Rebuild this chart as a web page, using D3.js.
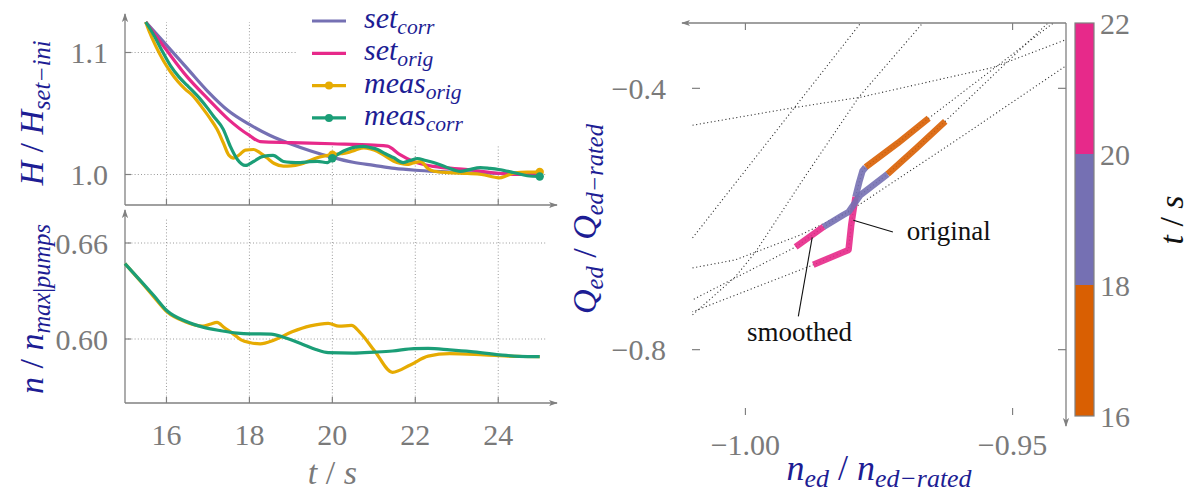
<!DOCTYPE html>
<html>
<head>
<meta charset="utf-8">
<script src="https://cdn.jsdelivr.net/npm/d3@7"></script>
<style>
  body { margin: 0; background: #fff; }
</style>
</head>
<body>
<svg id="chart" width="1190" height="493"></svg>
<script>
// ---------- ticks ----------
const timeTicks  = [16, 18, 20, 22, 24];
const headTicks  = [1.0, 1.1];
const speedTicks = [0.60, 0.66];
const nedTicks   = [-1.00, -0.95];
const qedTicks   = [-0.4, -0.8];
const cbTicks    = [16, 18, 20, 22];

// ---------- head ratio H / H_set-ini over time [t, H] ----------
const setCorr = [[15.5,1.125],[16,1.106],[16.5,1.087],[17,1.068],[17.5,1.052],[18,1.041],[18.5,1.032],
  [19,1.025],[19.5,1.019],[20,1.014],[20.5,1.010],[21,1.0075],[21.5,1.005],[22,1.0035],[22.5,1.0025],
  [23,1.0018],[24,1.001],[25,1.000]];
const setOrig = [[15.5,1.125],[16,1.102],[16.5,1.080],[17,1.062],[17.5,1.045],[18,1.032],[18.26,1.027],
  [19,1.0262],[20,1.0252],[21,1.024],[21.33,1.0232],[21.6,1.017],[21.96,1.0107],[22.44,1.0066],
  [23.26,1.0041],[24.06,1.0008],[24.5,1.0],[25,1.0]];
const measOrig = [[15.5,1.125],[15.6,1.116],[15.76,1.104],[15.93,1.093],[16.1,1.084],[16.28,1.076],
  [16.45,1.070],[16.62,1.065],[16.88,1.054],[17.05,1.046],[17.22,1.037],[17.37,1.026],[17.5,1.016],
  [17.62,1.0135],[17.75,1.016],[17.9,1.020],[18.1,1.0205],[18.25,1.018],[18.42,1.0137],[18.6,1.009],
  [18.82,1.0068],[19.0,1.007],[19.23,1.0085],[19.43,1.011],[19.63,1.0137],[19.85,1.0155],[20.03,1.0164],
  [20.2,1.017],[20.36,1.0178],[20.55,1.020],[20.76,1.0219],[20.92,1.021],[21.08,1.0191],[21.28,1.015],
  [21.48,1.0109],[21.65,1.009],[21.8,1.0082],[21.95,1.0095],[22.13,1.0105],[22.3,1.005],[22.45,1.0027],
  [22.8,1.0015],[23.25,1.0008],[23.6,1.0],[24.02,0.9973],[24.2,0.999],[24.38,1.0014],[24.7,1.002],[25.0,1.002]];
const measCorr = [[15.5,1.125],[15.7,1.114],[15.9,1.101],[16.1,1.089],[16.3,1.080],[16.5,1.073],
  [16.81,1.062],[17.0,1.054],[17.13,1.048],[17.37,1.037],[17.54,1.023],[17.71,1.0123],[17.9,1.0074],
  [18.1,1.0107],[18.33,1.0148],[18.57,1.0156],[18.82,1.0107],[19.0,1.010],[19.23,1.0098],[19.45,1.0105],
  [19.64,1.0107],[19.88,1.0098],[20.02,1.0139],[20.2,1.018],[20.36,1.0205],[20.55,1.0225],[20.75,1.0230],
  [20.92,1.022],[21.09,1.0205],[21.28,1.017],[21.47,1.0139],[21.71,1.0098],[21.88,1.0115],[22.05,1.0131],
  [22.25,1.0115],[22.44,1.0098],[22.75,1.006],[23.09,1.0025],[23.3,1.004],[23.57,1.0057],[23.8,1.005],
  [24.01,1.0041],[24.37,1.0016],[24.7,0.999],[25.0,0.9984]];
// times at which the measured head carries a marker
const measMarkTimes = [20, 25];

// ---------- pump speed n / n_max|pumps over time [t, n] ----------
const speedOrig = [[15,0.6471],[15.41,0.6350],[15.7,0.6262],[16.02,0.6168],[16.45,0.6108],[16.88,0.6080],
  [17.05,0.6092],[17.22,0.6104],[17.4,0.6070],[17.57,0.6040],[17.8,0.5995],[18.0,0.5978],[18.26,0.5970],
  [18.6,0.5994],[19.03,0.6045],[19.47,0.6082],[19.9,0.6098],[20.16,0.6080],[20.46,0.6085],[20.67,0.6040],
  [21.02,0.5925],[21.45,0.5792],[21.88,0.5838],[22.31,0.5893],[22.83,0.5908],[23.43,0.5904],[24.03,0.5896],
  [24.5,0.5891],[25.0,0.5890]];
const speedCorr = [[15,0.6471],[15.41,0.6354],[15.7,0.627],[16.02,0.6175],[16.45,0.6112],[16.88,0.6074],
  [17.31,0.6052],[17.7,0.6037],[18.0,0.6032],[18.52,0.6031],[18.86,0.6008],[19.29,0.5966],[19.6,0.5935],
  [19.9,0.5915],[20.5,0.5912],[21.02,0.5918],[21.45,0.5925],[21.97,0.5940],[22.31,0.5941],[22.83,0.5932],
  [23.34,0.5921],[24.03,0.5901],[24.5,0.5892],[25.0,0.5890]];

// ---------- operating point trajectories [t, n_ed, Q_ed] ----------
const trajOriginal = [[16,-0.9657,-0.4458],[17,-0.9715,-0.4840],[18,-0.9775,-0.5206],[18.3,-0.9781,-0.5267],
  [19,-0.9787,-0.5435],[20,-0.9794,-0.5664],[20.6,-0.9802,-0.6092],[21.2,-0.9807,-0.6473],[22,-0.9873,-0.6702]];
const trajSmoothed = [[16,-0.9626,-0.4504],[17,-0.9680,-0.4916],[18,-0.9734,-0.5313],[18.8,-0.9785,-0.5634],
  [19.3,-0.9807,-0.5893],[19.45,-0.9817,-0.5939],[20,-0.9854,-0.6122],[21,-0.9880,-0.6275],[22,-0.9906,-0.6428]];
// continuation of each path outside the time window [n_ed, Q_ed]
const originalBefore = [[-0.9425,-0.3008]];
const originalAfter  = [[-1.0099,-0.7420]];
const smoothedBefore = [[-0.9435,-0.3008]];
const smoothedAfter  = [[-1.0099,-0.7237]];
// characteristic guide curves [n_ed, Q_ed]
const guide1 = [[-1.0099,-0.4565],[-0.9916,-0.4305],[-0.9785,-0.4137],[-0.9536,-0.3679],[-0.9399,-0.3252]];
const guide2 = [[-1.0099,-0.6290],[-0.9785,-0.3008]];
const guide3 = [[-1.0099,-0.7466],[-1.0019,-0.6886],[-0.9981,-0.6504],[-0.9893,-0.5405],[-0.9788,-0.4137],[-0.9669,-0.3008]];
const guide4 = [[-1.0099,-0.6748],[-1.0019,-0.6626],[-0.9897,-0.6244],[-0.9813,-0.5908],[-0.9788,-0.5786],[-0.9597,-0.4748],[-0.9399,-0.3649]];

// time bands of the colour bar
const timeBands = [
  { from: 16, to: 18, color: "#d95f02" },
  { from: 18, to: 20, color: "#7570b3" },
  { from: 20, to: 22, color: "#e7298a" }
];

// annotations: leader from a point on the path to the label [n_ed, Q_ed]
const annotations = [
  { text: "original", from: [-0.9798, -0.6018], to: [-0.9724, -0.6198], at: [-0.9698, -0.6320], anchor: "start" },
  { text: "smoothed", from: [-0.9875, -0.6280], to: [-0.9901, -0.7490], at: [-0.9899, -0.7870], anchor: "middle" }
];

const legendItems = [
  { base: "set",  sub: "corr", color: "#7570b3", marker: false },
  { base: "set",  sub: "orig", color: "#e7298a", marker: false },
  { base: "meas", sub: "orig", color: "#e6ab02", marker: true },
  { base: "meas", sub: "corr", color: "#1b9e77", marker: true }
];

// ---------- drawing ----------
const FONT = "'Liberation Serif', 'DejaVu Serif', 'Noto Serif', 'Times New Roman', Times, serif";
const svg = d3.select("#chart").attr("font-family", FONT);
const AXIS = "#808080", TICKTXT = "#7a7a7a", GRID = "#9a9a9a", LABEL = "#1d1d94";
const TICK_FS = 30, LABEL_FS = 34;

const defs = svg.append("defs");
defs.append("marker").attr("id", "arr").attr("viewBox", "0 0 10 10")
  .attr("refX", 9).attr("refY", 5).attr("markerWidth", 9).attr("markerHeight", 9)
  .attr("markerUnits", "userSpaceOnUse").attr("orient", "auto")
  .append("path").attr("d", "M0,1.5 L10,5 L0,8.5 L2.5,5 Z").attr("fill", AXIS);

// write a math-like label made of tokens; sub tokens are lowered and smaller
function mathText(sel, tokens, size) {
  sel.attr("font-family", FONT);
  let off = 0;
  tokens.forEach(tk => {
    const target = tk.sub ? size * 0.2 : 0;
    const ts = sel.append("tspan").text(tk.s)
      .attr("font-size", tk.sub ? size * 0.72 : size)
      .attr("dy", target - off);
    off = target;
    if (tk.i !== false) ts.attr("font-style", "italic");
  });
  return sel;
}

// ----- left panels -----
const xT = d3.scaleLinear().domain([15, 25.2]).range([125, 548]);
const yH = d3.scaleLinear().domain([0.975, 1.125]).range([205, 22]);
const yN = d3.scaleLinear().domain([0.56, 0.675]).range([403, 219]);
const gridRight = xT(25.15);

function leftGrid(y, ticks, topY) {
  const g = svg.append("g");
  const bottom = y.range()[0];
  g.selectAll(".vg").data(timeTicks).join("line")
    .attr("x1", d => xT(d)).attr("x2", d => xT(d)).attr("y1", bottom).attr("y2", topY)
    .attr("stroke", GRID).attr("stroke-width", 1).attr("stroke-dasharray", "1,2.2");
  g.selectAll(".hg").data(ticks).join("line")
    .attr("x1", xT(15)).attr("x2", gridRight).attr("y1", d => y(d)).attr("y2", d => y(d))
    .attr("stroke", GRID).attr("stroke-width", 1).attr("stroke-dasharray", "1,2.2");
}
function leftAxes(y, ticks, fmt, arrowTop) {
  const g = svg.append("g");
  const bottom = y.range()[0];
  g.append("line").attr("x1", xT(15)).attr("x2", 557).attr("y1", bottom).attr("y2", bottom)
    .attr("stroke", AXIS).attr("stroke-width", 1.3).attr("marker-end", "url(#arr)");
  g.append("line").attr("x1", xT(15)).attr("x2", xT(15)).attr("y1", bottom).attr("y2", arrowTop)
    .attr("stroke", AXIS).attr("stroke-width", 1.3).attr("marker-end", "url(#arr)");
  g.selectAll(".xt").data(timeTicks).join("line")
    .attr("x1", d => xT(d)).attr("x2", d => xT(d)).attr("y1", bottom).attr("y2", bottom - 6)
    .attr("stroke", AXIS).attr("stroke-width", 1.2);
  g.selectAll(".yt").data(ticks).join("line")
    .attr("x1", xT(15)).attr("x2", xT(15) + 6).attr("y1", d => y(d)).attr("y2", d => y(d))
    .attr("stroke", AXIS).attr("stroke-width", 1.2);
  g.selectAll(".yl").data(ticks).join("text")
    .attr("x", 108).attr("y", d => y(d)).attr("dy", "0.35em").attr("text-anchor", "end")
    .attr("font-family", FONT).attr("font-size", TICK_FS).attr("fill", TICKTXT).text(fmt);
}

leftGrid(yH, headTicks, yH(1.125));
leftGrid(yN, speedTicks, 219);

// legend background hides the grid behind it
const legend = svg.append("g");
legend.append("rect").attr("x", 296).attr("y", 2).attr("width", 255).attr("height", 143).attr("fill", "#fff");

leftAxes(yH, headTicks, d3.format(".1f"), 14);
leftAxes(yN, speedTicks, d3.format(".2f"), 210);

const lineH = d3.line().x(d => xT(d[0])).y(d => yH(d[1])).curve(d3.curveMonotoneX);
const lineN = d3.line().x(d => xT(d[0])).y(d => yN(d[1])).curve(d3.curveMonotoneX);

[[setCorr, "#7570b3"], [setOrig, "#e7298a"], [measOrig, "#e6ab02"], [measCorr, "#1b9e77"]].forEach(([d, c]) => {
  svg.append("path").datum(d).attr("d", lineH).attr("fill", "none")
    .attr("stroke", c).attr("stroke-width", 3.2).attr("stroke-linejoin", "round");
});
function valueAt(series, t) {
  const i = d3.bisector(d => d[0]).left(series, t);
  if (i <= 0) return series[0][1];
  if (i >= series.length) return series[series.length - 1][1];
  const a = series[i - 1], b = series[i];
  return a[1] + (b[1] - a[1]) * (t - a[0]) / (b[0] - a[0]);
}
[[measOrig, "#e6ab02"], [measCorr, "#1b9e77"]].forEach(([d, c]) => {
  svg.append("g").selectAll("circle").data(measMarkTimes).join("circle")
    .attr("cx", t => xT(t)).attr("cy", t => yH(valueAt(d, t))).attr("r", 4.2).attr("fill", c);
});
[[speedOrig, "#e6ab02"], [speedCorr, "#1b9e77"]].forEach(([d, c]) => {
  svg.append("path").datum(d).attr("d", lineN).attr("fill", "none")
    .attr("stroke", c).attr("stroke-width", 3.2).attr("stroke-linejoin", "round");
});

// legend entries
legendItems.forEach((it, i) => {
  const y = 21 + i * 32.3;
  legend.append("line").attr("x1", 312).attr("x2", 346).attr("y1", y).attr("y2", y)
    .attr("stroke", it.color).attr("stroke-width", 3.2);
  if (it.marker) legend.append("circle").attr("cx", 329).attr("cy", y).attr("r", 4).attr("fill", it.color);
  const t = legend.append("text").attr("x", 364).attr("y", y + 7).attr("fill", LABEL);
  mathText(t, [{ s: it.base }, { s: it.sub, sub: true }], 30);
});

// left axis labels
mathText(svg.append("text").attr("transform", "translate(43,113) rotate(-90)")
  .attr("text-anchor", "middle").attr("fill", LABEL),
  [{ s: "H" }, { s: " / ", i: false }, { s: "H" }, { s: "set−ini", sub: true }], LABEL_FS);
mathText(svg.append("text").attr("transform", "translate(43,309) rotate(-90)")
  .attr("text-anchor", "middle").attr("fill", LABEL),
  [{ s: "n" }, { s: " / ", i: false }, { s: "n" }, { s: "max", sub: true }, { s: "|", sub: true, i: false }, { s: "pumps", sub: true }], LABEL_FS);

svg.append("g").selectAll("text").data(timeTicks).join("text")
  .attr("x", d => xT(d)).attr("y", 445).attr("text-anchor", "middle")
  .attr("font-family", FONT).attr("font-size", TICK_FS).attr("fill", TICKTXT).text(d => d);
mathText(svg.append("text").attr("x", xT(20)).attr("y", 484).attr("text-anchor", "middle").attr("fill", TICKTXT),
  [{ s: "t" }, { s: " / ", i: false }, { s: "s" }], LABEL_FS);

// ----- right panel: operating point plane -----
const xE = d3.scaleLinear().domain([-1.01, -0.94]).range([692, 1066]);
const yE = d3.scaleLinear().domain([-0.9, -0.3]).range([415, 23]);
const [L, R] = xE.range(), [B, T] = yE.range();

defs.append("clipPath").attr("id", "plane").append("rect")
  .attr("x", L).attr("y", T).attr("width", R - L).attr("height", B - T);

const plane = svg.append("g").attr("clip-path", "url(#plane)");
const lineE = d3.line().x(d => xE(d[0])).y(d => yE(d[1]));

const fullOriginal = originalBefore.concat(trajOriginal.map(d => [d[1], d[2]]), originalAfter);
const fullSmoothed = smoothedBefore.concat(trajSmoothed.map(d => [d[1], d[2]]), smoothedAfter);
[guide1, guide2, guide3, guide4, fullOriginal, fullSmoothed].forEach(c => {
  plane.append("path").datum(c).attr("d", lineE).attr("fill", "none")
    .attr("stroke", "#333").attr("stroke-width", 1.1).attr("stroke-dasharray", "1.1,2.6");
});

// split a trajectory into coloured pieces by time band
function bandPieces(traj) {
  return timeBands.map(b => ({
    color: b.color,
    pts: traj.filter(d => d[0] >= b.from && d[0] <= b.to).map(d => [d[1], d[2]])
  }));
}
[trajOriginal, trajSmoothed].forEach(traj => {
  bandPieces(traj).forEach(p => {
    plane.append("path").datum(p.pts).attr("d", lineE).attr("fill", "none")
      .attr("stroke", p.color).attr("stroke-width", 6.5).attr("stroke-opacity", 0.9)
      .attr("stroke-linejoin", "round");
  });
});

// frame: top and right axes carry the arrows
svg.append("line").attr("x1", R).attr("x2", 682).attr("y1", T).attr("y2", T)
  .attr("stroke", AXIS).attr("stroke-width", 1.3).attr("marker-end", "url(#arr)");
svg.append("line").attr("x1", R).attr("x2", R).attr("y1", T).attr("y2", 426)
  .attr("stroke", AXIS).attr("stroke-width", 1.3).attr("marker-end", "url(#arr)");
const ticksE = svg.append("g").attr("stroke", AXIS).attr("stroke-width", 1.2);
nedTicks.forEach(v => {
  ticksE.append("line").attr("x1", xE(v)).attr("x2", xE(v)).attr("y1", T).attr("y2", T + 7);
  ticksE.append("line").attr("x1", xE(v)).attr("x2", xE(v)).attr("y1", B).attr("y2", B - 7);
});
qedTicks.forEach(v => {
  ticksE.append("line").attr("x1", L).attr("x2", L + 8).attr("y1", yE(v)).attr("y2", yE(v));
  ticksE.append("line").attr("x1", R).attr("x2", R - 8).attr("y1", yE(v)).attr("y2", yE(v));
});
svg.append("g").selectAll("text").data(nedTicks).join("text")
  .attr("x", d => xE(d)).attr("y", 455).attr("text-anchor", "middle")
  .attr("font-family", FONT).attr("font-size", TICK_FS).attr("fill", TICKTXT).text(d => "−" + d3.format(".2f")(-d));
svg.append("g").selectAll("text").data(qedTicks).join("text")
  .attr("x", 666).attr("y", d => yE(d)).attr("dy", "0.35em").attr("text-anchor", "end")
  .attr("font-family", FONT).attr("font-size", TICK_FS).attr("fill", TICKTXT).text(d => "−" + d3.format(".1f")(-d));

annotations.forEach(a => {
  svg.append("line").attr("x1", xE(a.from[0])).attr("y1", yE(a.from[1]))
    .attr("x2", xE(a.to[0])).attr("y2", yE(a.to[1])).attr("stroke", "#111").attr("stroke-width", 1.1);
  svg.append("text").attr("x", xE(a.at[0])).attr("y", yE(a.at[1])).attr("text-anchor", a.anchor)
    .attr("font-family", FONT).attr("font-size", 27).attr("fill", "#111").text(a.text);
});

mathText(svg.append("text").attr("transform", `translate(596,${(T + B) / 2}) rotate(-90)`)
  .attr("text-anchor", "middle").attr("fill", LABEL),
  [{ s: "Q" }, { s: "ed", sub: true }, { s: " / ", i: false }, { s: "Q" }, { s: "ed−rated", sub: true }], LABEL_FS);
mathText(svg.append("text").attr("x", (L + R) / 2).attr("y", 480).attr("text-anchor", "middle").attr("fill", LABEL),
  [{ s: "n" }, { s: "ed", sub: true }, { s: " / ", i: false }, { s: "n" }, { s: "ed−rated", sub: true }], LABEL_FS + 2);

// ----- colour bar -----
const yC = d3.scaleLinear().domain([16, 22]).range([416, 23]);
const cb = svg.append("g");
cb.selectAll("rect").data(timeBands).join("rect")
  .attr("x", 1075).attr("width", 19).attr("y", d => yC(d.to)).attr("height", d => yC(d.from) - yC(d.to))
  .attr("fill", d => d.color);
cb.append("rect").attr("x", 1075).attr("y", yC(22)).attr("width", 19).attr("height", yC(16) - yC(22))
  .attr("fill", "none").attr("stroke", AXIS).attr("stroke-width", 1.2);
cb.selectAll("text").data(cbTicks).join("text")
  .attr("x", 1100).attr("y", d => yC(d)).attr("dy", "0.35em")
  .attr("font-family", FONT).attr("font-size", TICK_FS).attr("fill", TICKTXT).text(d => d);
mathText(svg.append("text").attr("transform", "translate(1183,220) rotate(-90)")
  .attr("text-anchor", "middle").attr("fill", "#111"),
  [{ s: "t" }, { s: " / ", i: false }, { s: "s" }], LABEL_FS);
</script>
</body>
</html>
